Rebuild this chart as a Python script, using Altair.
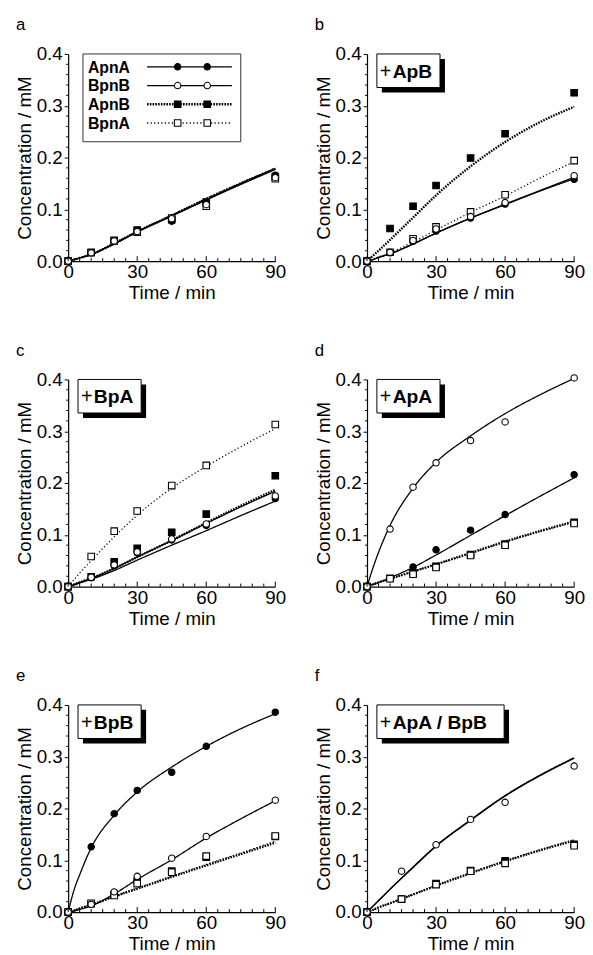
import altair as alt
import pandas as pd

# ---------------- data ----------------
SERIES = ["ApnA", "BpnB", "ApnB", "BpnA"]
PANELS = ["a", "b", "c", "d", "e", "f"]
ADDED = {"a": "", "b": "ApB", "c": "BpA", "d": "ApA", "e": "BpB", "f": "ApA / BpB"}

TIME = [0, 10, 20, 30, 45, 60, 90]
TIME_F = [0, 15, 30, 45, 60, 90]
CURVE_T = [0, 2.5, 5, 10, 20, 30, 45, 60, 75, 90]

# measured points
a_ApnA = [0, 0.016, 0.039, 0.058, 0.077, 0.112, 0.166]
a_BpnB = [0, 0.016, 0.039, 0.057, 0.082, 0.109, 0.161]
a_ApnB = [0, 0.017, 0.040, 0.060, 0.080, 0.114, 0.163]
a_BpnA = [0, 0.016, 0.039, 0.056, 0.083, 0.106, 0.159]

b_ApnA = [0, 0.016, 0.038, 0.058, 0.083, 0.110, 0.158]
b_BpnB = [0, 0.017, 0.040, 0.062, 0.086, 0.113, 0.165]
b_ApnB = [0, 0.063, 0.106, 0.146, 0.199, 0.246, 0.325]
b_BpnA = [0, 0.017, 0.043, 0.066, 0.095, 0.128, 0.194]

c_ApnA = [0, 0.017, 0.040, 0.065, 0.090, 0.118, 0.170]
c_BpnB = [0, 0.018, 0.042, 0.067, 0.092, 0.121, 0.175]
c_ApnB = [0, 0.019, 0.048, 0.074, 0.105, 0.140, 0.214]
c_BpnA = [0, 0.058, 0.107, 0.146, 0.195, 0.234, 0.313]

d_ApnA = [0, 0.015, 0.038, 0.071, 0.109, 0.139, 0.216]
d_BpnB = [0, 0.111, 0.192, 0.239, 0.282, 0.318, 0.403]
d_ApnB = [0, 0.016, 0.026, 0.039, 0.062, 0.082, 0.124]
d_BpnA = [0, 0.015, 0.024, 0.037, 0.060, 0.080, 0.122]

e_ApnA = [0, 0.126, 0.190, 0.235, 0.270, 0.320, 0.386]
e_BpnB = [0, 0.015, 0.039, 0.069, 0.104, 0.146, 0.216]
e_ApnB = [0, 0.016, 0.034, 0.060, 0.079, 0.106, 0.146]
e_BpnA = [0, 0.017, 0.032, 0.055, 0.077, 0.108, 0.147]

f_BpnB = [0, 0.079, 0.130, 0.179, 0.212, 0.282]
f_ApnB = [0, 0.025, 0.055, 0.080, 0.099, 0.131]
f_BpnA = [0, 0.025, 0.053, 0.079, 0.094, 0.128]

# fitted curves (at CURVE_T)
ca_ApnA = [0, 0.003, 0.006, 0.013, 0.034, 0.057, 0.088, 0.119, 0.150, 0.179]
ca_BpnB = [0, 0.003, 0.006, 0.013, 0.033, 0.056, 0.087, 0.118, 0.148, 0.177]
ca_ApnB = [0, 0.003, 0.006, 0.013, 0.034, 0.057, 0.088, 0.120, 0.150, 0.178]
ca_BpnA = [0, 0.003, 0.006, 0.013, 0.034, 0.057, 0.089, 0.121, 0.151, 0.180]

cb_ApnA = [0, 0.003, 0.007, 0.014, 0.033, 0.054, 0.083, 0.109, 0.135, 0.159]
cb_BpnB = [0, 0.003, 0.007, 0.014, 0.033, 0.054, 0.083, 0.110, 0.136, 0.162]
cb_ApnB = [0, 0.010, 0.020, 0.041, 0.084, 0.127, 0.183, 0.230, 0.268, 0.298]
cb_BpnA = [0, 0.004, 0.008, 0.016, 0.037, 0.060, 0.094, 0.126, 0.160, 0.192]

cc_ApnA = [0, 0.003, 0.007, 0.014, 0.031, 0.051, 0.080, 0.108, 0.137, 0.165]
cc_BpnB = [0, 0.004, 0.008, 0.016, 0.035, 0.057, 0.089, 0.122, 0.154, 0.184]
cc_ApnB = [0, 0.004, 0.008, 0.016, 0.035, 0.057, 0.089, 0.123, 0.156, 0.187]
cc_BpnA = [0, 0.013, 0.026, 0.050, 0.096, 0.138, 0.190, 0.232, 0.270, 0.305]

cd_ApnA = [0, 0.004, 0.008, 0.017, 0.037, 0.061, 0.099, 0.137, 0.174, 0.210]
cd_BpnB = [0, 0.035, 0.066, 0.118, 0.190, 0.240, 0.291, 0.334, 0.370, 0.402]
cd_ApnB = [0, 0.004, 0.008, 0.015, 0.029, 0.043, 0.065, 0.087, 0.107, 0.126]
cd_BpnA = [0, 0.004, 0.008, 0.015, 0.029, 0.043, 0.064, 0.086, 0.106, 0.124]

ce_ApnA = [0, 0.042, 0.072, 0.124, 0.187, 0.232, 0.280, 0.320, 0.354, 0.383]
ce_BpnB = [0, 0.002, 0.005, 0.012, 0.035, 0.063, 0.101, 0.143, 0.180, 0.215]
ce_ApnB = [0, 0.003, 0.007, 0.014, 0.030, 0.045, 0.068, 0.090, 0.112, 0.134]
ce_BpnA = [0, 0.003, 0.007, 0.014, 0.030, 0.046, 0.069, 0.092, 0.114, 0.137]

cf_ApnA = [0, 0.011, 0.022, 0.044, 0.086, 0.127, 0.177, 0.224, 0.263, 0.297]
cf_BpnB = [0, 0.011, 0.022, 0.044, 0.087, 0.128, 0.178, 0.225, 0.264, 0.298]
cf_ApnB = [0, 0.004, 0.009, 0.017, 0.034, 0.051, 0.075, 0.098, 0.119, 0.138]
cf_BpnA = [0, 0.004, 0.009, 0.017, 0.034, 0.051, 0.076, 0.099, 0.120, 0.140]

X_LABELS = [0, 30, 60, 90]
X_MINOR = [5, 10, 15, 20, 25, 35, 40, 45, 50, 55, 65, 70, 75, 80, 85]
Y_LABELS = [0.0, 0.1, 0.2, 0.3, 0.4]
Y_MINOR = [0.02, 0.04, 0.06, 0.08, 0.12, 0.14, 0.16, 0.18, 0.22, 0.24,
           0.26, 0.28, 0.32, 0.34, 0.36, 0.38]

POINTS = {
    "a": (TIME, {"ApnA": a_ApnA, "BpnB": a_BpnB, "ApnB": a_ApnB, "BpnA": a_BpnA}),
    "b": (TIME, {"ApnA": b_ApnA, "BpnB": b_BpnB, "ApnB": b_ApnB, "BpnA": b_BpnA}),
    "c": (TIME, {"ApnA": c_ApnA, "BpnB": c_BpnB, "ApnB": c_ApnB, "BpnA": c_BpnA}),
    "d": (TIME, {"ApnA": d_ApnA, "BpnB": d_BpnB, "ApnB": d_ApnB, "BpnA": d_BpnA}),
    "e": (TIME, {"ApnA": e_ApnA, "BpnB": e_BpnB, "ApnB": e_ApnB, "BpnA": e_BpnA}),
    "f": (TIME_F, {"BpnB": f_BpnB, "ApnB": f_ApnB, "BpnA": f_BpnA}),
}
CURVES = {
    "a": {"ApnA": ca_ApnA, "BpnB": ca_BpnB, "ApnB": ca_ApnB, "BpnA": ca_BpnA},
    "b": {"ApnA": cb_ApnA, "BpnB": cb_BpnB, "ApnB": cb_ApnB, "BpnA": cb_BpnA},
    "c": {"ApnA": cc_ApnA, "BpnB": cc_BpnB, "ApnB": cc_ApnB, "BpnA": cc_BpnA},
    "d": {"ApnA": cd_ApnA, "BpnB": cd_BpnB, "ApnB": cd_ApnB, "BpnA": cd_BpnA},
    "e": {"ApnA": ce_ApnA, "BpnB": ce_BpnB, "ApnB": ce_ApnB, "BpnA": ce_BpnA},
    "f": {"ApnA": cf_ApnA, "BpnB": cf_BpnB, "ApnB": cf_ApnB, "BpnA": cf_BpnA},
}

# ---------------- styling ----------------
W, H = 210, 210
FONT = "Liberation Sans"
DASH = {"ApnA": [1, 0], "BpnB": [1, 0], "ApnB": [1.6, 1.2], "BpnA": [1.2, 2.4]}
SW = {"ApnA": 1.3, "BpnB": 1.3, "ApnB": 2.4, "BpnA": 1.3}
SHAPE = {"ApnA": "circle", "BpnB": "circle", "ApnB": "square", "BpnA": "square"}
FILL = {"ApnA": "black", "BpnB": "white", "ApnB": "black", "BpnA": "white"}
SIZE = {"circle": 42, "square": 44}
DRAW_ORDER = ["ApnB", "ApnA", "BpnA", "BpnB"]

one = pd.DataFrame({"k": [0]})

x_enc = alt.X("time:Q", scale=alt.Scale(domain=[0, 90], nice=False),
              axis=alt.Axis(values=X_LABELS, ticks=False, title="Time / min",
                            labelPadding=2, titlePadding=2, labelFlush=False))
y_enc = alt.Y("conc:Q", scale=alt.Scale(domain=[0, 0.4], nice=False),
              axis=alt.Axis(values=Y_LABELS, format=".1f", tickSize=4,
                            title="Concentration / mM", labelPadding=2,
                            titlePadding=2, labelFlush=False))


def panel(key):
    layers = []
    # fitted curves
    for s in SERIES:
        vals = CURVES[key].get(s)
        if vals is None:
            continue
        df = pd.DataFrame({"time": CURVE_T, "conc": vals})
        layers.append(
            alt.Chart(df).mark_line(interpolate="monotone", color="black",
                                    strokeWidth=SW[s], strokeDash=DASH[s])
            .encode(x=x_enc, y=y_enc)
        )
    # measured points
    times, series = POINTS[key]
    for s in DRAW_ORDER:
        if s not in series:
            continue
        df = pd.DataFrame({"time": times, "conc": series[s]})
        layers.append(
            alt.Chart(df).mark_point(shape=SHAPE[s], filled=True, fill=FILL[s],
                                     stroke="black", strokeWidth=1.1,
                                     size=SIZE[SHAPE[s]], opacity=1)
            .encode(x=x_enc, y=y_enc)
        )
    # inward x ticks
    layers.append(
        alt.Chart(pd.DataFrame({"time": X_MINOR})).mark_rule(color="black", strokeWidth=1)
        .encode(x="time:Q", y=alt.value(H), y2=alt.value(H - 3))
    )
    layers.append(
        alt.Chart(pd.DataFrame({"time": X_LABELS})).mark_rule(color="black", strokeWidth=1)
        .encode(x="time:Q", y=alt.value(H), y2=alt.value(H - 5))
    )
    # minor y ticks
    layers.append(
        alt.Chart(pd.DataFrame({"conc": Y_MINOR})).mark_rule(color="black", strokeWidth=1)
        .encode(y="conc:Q", x=alt.value(0), x2=alt.value(-2))
    )
    # panel letter
    layers.append(
        alt.Chart(one).mark_text(text=key, align="left", baseline="alphabetic",
                                 font=FONT, fontSize=17, color="black")
        .encode(x=alt.value(-53), y=alt.value(-24))
    )

    if key == "a":
        # legend box
        layers.append(
            alt.Chart(one).mark_rect(fill="white", stroke="#333", strokeWidth=1)
            .encode(x=alt.value(15), x2=alt.value(175), y=alt.value(0), y2=alt.value(89))
        )
        for i, s in enumerate(SERIES):
            yb = 19 + 19 * i
            yl = yb - 6
            layers.append(
                alt.Chart(one).mark_text(text=s, align="left", baseline="alphabetic",
                                         font=FONT, fontSize=16, fontWeight="bold",
                                         color="black")
                .encode(x=alt.value(20), y=alt.value(yb))
            )
            layers.append(
                alt.Chart(one).mark_rule(color="black", strokeWidth=SW[s], strokeDash=DASH[s])
                .encode(x=alt.value(80), x2=alt.value(166), y=alt.value(yl))
            )
            for px in (111, 141):
                layers.append(
                    alt.Chart(one).mark_point(shape=SHAPE[s], filled=True, fill=FILL[s],
                                              stroke="black", strokeWidth=1.1,
                                              size=SIZE[SHAPE[s]], opacity=1)
                    .encode(x=alt.value(px), y=alt.value(yl))
                )
    else:
        label = ADDED[key]
        bw = 64 if len(label) <= 3 else 129
        layers.append(
            alt.Chart(one).mark_rect(fill="black")
            .encode(x=alt.value(15), x2=alt.value(10 + bw + 5),
                    y=alt.value(5), y2=alt.value(34 + 5))
        )
        layers.append(
            alt.Chart(one).mark_rect(fill="white", stroke="black", strokeWidth=1)
            .encode(x=alt.value(10), x2=alt.value(10 + bw),
                    y=alt.value(0), y2=alt.value(34))
        )
        layers.append(
            alt.Chart(one).mark_text(text="+", align="left", baseline="alphabetic",
                                     font=FONT, fontSize=20, color="black")
            .encode(x=alt.value(13), y=alt.value(24))
        )
        layers.append(
            alt.Chart(one).mark_text(text=label, align="left", baseline="alphabetic",
                                     font=FONT, fontSize=19.5, fontWeight="bold",
                                     color="black")
            .encode(x=alt.value(26), y=alt.value(24))
        )

    return alt.layer(*layers).properties(width=W, height=H)


chart = alt.concat(*[panel(k) for k in PANELS], columns=2,
                   spacing={"row": 40, "column": 28}).properties(
    padding={"left": 7, "top": 2, "right": 0, "bottom": 0}
).configure_axis(
    labelFont=FONT, labelFontSize=19, labelColor="black",
    titleFont=FONT, titleFontSize=19, titleFontWeight="normal", titleColor="black",
    domainColor="black", tickColor="black", grid=False, domainWidth=1.2
).configure_view(stroke=None)

chart.save("out.html", embed_options={"renderer": "svg", "actions": False})
